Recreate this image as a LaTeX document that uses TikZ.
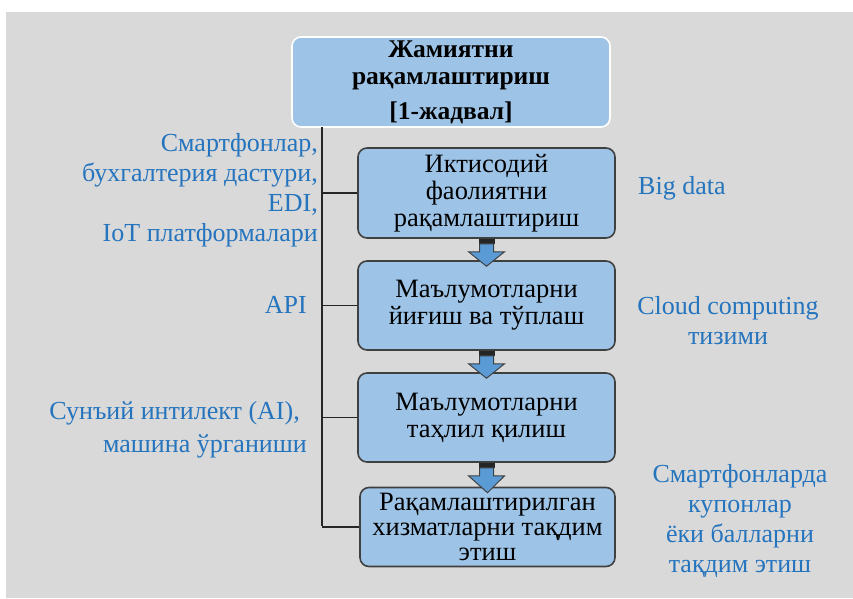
\documentclass[tikz,border=0pt]{standalone}
\usepackage{fontspec}
\setmainfont{Liberation Serif}
\definecolor{bgray}{HTML}{D9D9D9}
\definecolor{boxfill}{HTML}{9DC3E6}
\definecolor{boxline}{HTML}{404040}
\definecolor{lblue}{HTML}{2574BE}
\definecolor{arrfill}{HTML}{5B9BD5}
\tikzset{
  stepbox/.style={draw=boxline, line width=1.6pt, fill=boxfill, rounded corners=9pt,
    align=center, inner sep=0pt, font=\fontsize{26.5}{27}\selectfont},
  topbox/.style={draw=white, line width=1.6pt, fill=boxfill, rounded corners=9pt,
    align=center, inner sep=0pt, font=\bfseries\fontsize{25.5}{27}\selectfont},
  lbl/.style={text=lblue, inner sep=0pt, font=\fontsize{26}{30}\selectfont},
  conn/.style={draw=black!85, line width=1.3pt},
}
\newcommand{\flowarrow}[2]{%
  \path (#1.south) coordinate (fa-top);
  \path (#2.north) coordinate (fa-bot);
  \fill[black!85] ([xshift=-8pt]fa-top) rectangle ([xshift=8pt,yshift=-5pt]fa-top);
  \draw[boxline, line width=1pt, fill=arrfill, line join=miter]
    ([xshift=-7pt,yshift=-5pt]fa-top) -- ([xshift=-7pt,yshift=-13pt]fa-top)
    -- ([xshift=-18pt,yshift=-13pt]fa-top) -- ([yshift=-6pt]fa-bot)
    -- ([xshift=18pt,yshift=-13pt]fa-top) -- ([xshift=7pt,yshift=-13pt]fa-top)
    -- ([xshift=7pt,yshift=-5pt]fa-top) -- cycle;
}
\begin{document}
\begin{tikzpicture}[x=1pt,y=-1pt]
\useasboundingbox (0,0) rectangle (853,598);
\fill[bgray] (6,12) rectangle (853,598);

\node[topbox, minimum width=318pt, minimum height=90pt] (top) at (451,82)
  {Жамиятни\\рақамлаштириш\\[8pt][1-жадвал]};

\node[stepbox, minimum width=257pt, minimum height=90pt] (b1) at (486.5,193)
  {Иктисодий\\фаолиятни\\рақамлаштириш};
\node[stepbox, minimum width=257pt, minimum height=89pt] (b2) at (486.5,305.5)
  {Маълумотларни\\йиғиш ва тўплаш};
\node[stepbox, minimum width=257pt, minimum height=89pt] (b3) at (486.5,417.5)
  {Маълумотларни\\таҳлил қилиш};
\node[stepbox, minimum width=255pt, minimum height=79pt, font=\fontsize{26.5}{25}\selectfont] (b4) at (487.5,527)
  {Рақамлаштирилган\\хизматларни тақдим\\этиш};

\flowarrow{b1}{b2}
\flowarrow{b2}{b3}
\flowarrow{b3}{b4}

\coordinate (vtop) at (322,127);
\coordinate (vbot) at (322,526);
\draw[conn] (vtop) -- (vbot);
\draw[conn] (b1.west -| vtop) -- (b1.west);
\draw[conn] (b2.west -| vtop) -- (b2.west);
\draw[conn] (b3.west -| vtop) -- (b3.west);
\draw[conn] (b4.west -| vtop) -- (b4.west);

\node[lbl, align=right, anchor=east] (l1) at (318,190)
  {Смартфонлар,\\бухгалтерия дастури,\\EDI,\\IoT платформалари};
\node[lbl, anchor=east] (l2) at (307,305) {API};
\node[lbl, align=right, anchor=east, font=\fontsize{26}{33}\selectfont] (l3) at (307,430)
  {Сунъий интилект (AI),\hspace*{7pt}\\машина ўрганиши};

\node[lbl, anchor=west] (r1) at (638,188) {Big data};
\node[lbl, align=center] (r2) at (728,321) {Cloud computing\\тизими};
\node[lbl, align=center] (r3) at (740,521)
  {Смартфонларда\\купонлар\\ёки балларни\\тақдим этиш};
\end{tikzpicture}
\end{document}
